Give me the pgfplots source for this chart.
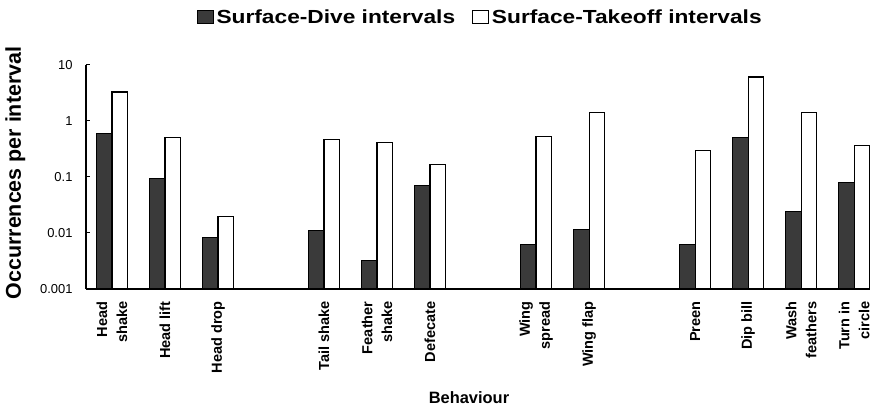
\documentclass[border=0pt]{standalone}
\usepackage{fontspec}
\setmainfont{Liberation Sans}
\newfontfamily\widefont{Liberation Sans}[FakeStretch=1.2]
\usepackage{pgfplots}
\pgfplotsset{compat=1.18}
\usepackage{pgfplotstable}
\definecolor{darkbar}{HTML}{3A3A3A}

\pgfplotstableread{
x dive takeoff
0 0.60 3.3
1 0.095 0.50
2 0.0083 0.020
4 0.011 0.46
5 0.0032 0.42
6 0.070 0.165
8 0.0062 0.53
9 0.0115 1.4
11 0.0062 0.295
12 0.51 6.1
13 0.024 1.4
14 0.079 0.37
}\data

\begin{document}
\begin{tikzpicture}
\begin{axis}[name=ax, scale only axis, width=784bp, height=224bp,
  ymode=log, log origin y=infty, ymin=0.001, ymax=10,
  xmin=-0.49, xmax=14.3,
  ybar=0pt, bar width=0.29,
  axis lines*=left, axis line style={line width=1.3bp, -},
  ytick={0.001,0.01,0.1,1,10}, yticklabels={0.001,0.01,0.1,1,10},
  yminorticks=false,
  tick align=inside, major tick length=4bp,
  ytick style={line width=1bp, black},
  xtick={0,1,2,4,5,6,8,9,11,12,13,14},
  xticklabels={{Head\\shake},{Head lift},{Head drop},{Tail shake},{Feather\\shake},{Defecate},{Wing\\spread},{Wing flap},{Preen},{Dip bill},{Wash\\feathers},{Turn in\\circle}},
  xtick style={draw=none},
  xticklabel shift=9bp,
  xticklabel style={rotate=90, anchor=east, align=right, font=\bfseries\fontsize{14.6}{20}\selectfont},
  yticklabel style={font=\fontsize{13}{15}\selectfont, xshift=-10bp},
  ylabel={Occurrences per interval},
  ylabel style={at={(axis description cs:-0.09,0.518)}, anchor=center, font=\bfseries\fontsize{21.5}{24}\selectfont},
  xlabel={Behaviour},
  xlabel style={at={(axis description cs:0.4885,-0.487)}, anchor=center, font=\bfseries\fontsize{16.5}{20}\selectfont},
  legend image code/.code={\draw[#1, line width=0.8bp] (0bp,-6.5bp) rectangle (16bp,6.5bp);},
  legend style={at={(axis description cs:0.5035,1.213)}, anchor=center, draw=none, fill=none,
    legend columns=2, font=\widefont\bfseries\fontsize{19}{22}\selectfont,
    /tikz/every even column/.append style={column sep=14bp},
    nodes={inner xsep=3bp},
    inner sep=0pt},
  legend cell align=left,
]
\addplot[fill=darkbar, draw=black, line width=1.1bp] table[x=x, y=dive] {\data};
\addplot[fill=white, draw=black, line width=1.1bp] table[x=x, y=takeoff] {\data};
\legend{Surface-Dive intervals, Surface-Takeoff intervals}
\end{axis}
\pgfresetboundingbox
\path[use as bounding box] ([shift={(-86bp,-117bp)}]ax.south west) rectangle ([shift={(2bp,65bp)}]ax.north east);
\end{tikzpicture}
\end{document}
